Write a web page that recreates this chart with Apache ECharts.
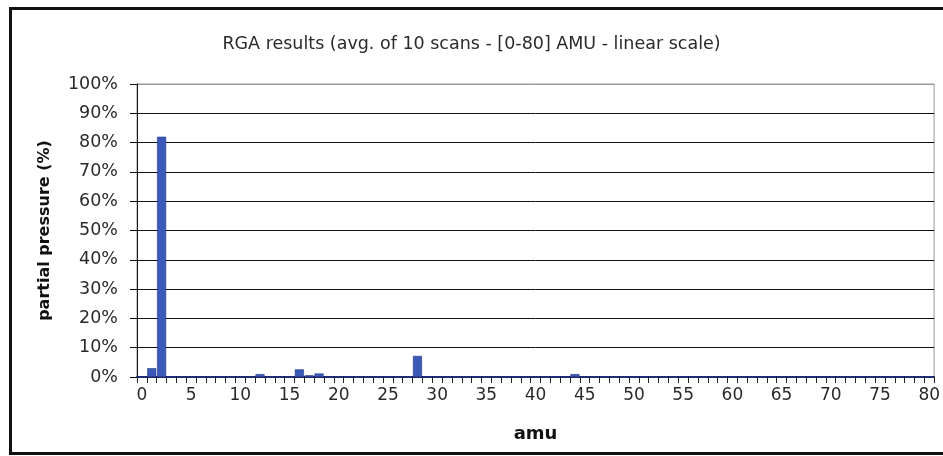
<!DOCTYPE html>
<html>
<head>
<meta charset="utf-8">
<script src="https://cdn.jsdelivr.net/npm/echarts@6/dist/echarts.min.js"></script>
<style>html,body{margin:0;padding:0;background:#fff;}#c{width:943px;height:456px;}</style>
</head>
<body>
<div id="c"></div>
<script>
var titleText = "RGA results (avg. of 10 scans - [0-80] AMU - linear scale)";
var xName = "amu";
var yName = "partial pressure (%)";
var amuCategories = [];
for (var i = 0; i <= 80; i++) amuCategories.push(String(i));
// non-zero peaks (amu -> % partial pressure)
var peakAmu = [1, 2, 12, 16, 17, 18, 28, 44];
var peakValues = [3.0, 82.0, 1.0, 2.6, 0.6, 1.2, 7.2, 1.0];
var yTicks = [0, 10, 20, 30, 40, 50, 60, 70, 80, 90, 100];

var values = amuCategories.map(function (c) {
  var idx = peakAmu.indexOf(Number(c));
  return idx >= 0 ? peakValues[idx] : 0;
});

var font = "DejaVu Sans";
var chart = echarts.init(document.getElementById('c'), null, {renderer: 'canvas'});
chart.setOption({
  animation: false,
  backgroundColor: '#fff',
  title: {
    text: titleText, left: 'center', top: 30,
    textStyle: {fontFamily: font, fontSize: 17.5, fontWeight: 'normal', color: '#2a2a2a'}
  },
  grid: {left: 137, right: 6, top: 84, bottom: 79, show: true, borderColor: '#999', borderWidth: 1},
  xAxis: {
    type: 'category', data: amuCategories,
    name: xName, nameLocation: 'middle', nameGap: 48,
    nameTextStyle: {fontFamily: font, fontSize: 18, fontWeight: 'bold', color: '#111'},
    axisLine: {lineStyle: {color: '#1c2366', width: 2}},
    axisTick: {show: true, interval: 0, length: 6, lineStyle: {color: '#222', width: 1}},
    axisLabel: {interval: 4, fontFamily: font, fontSize: 17, color: '#2a2a2a', margin: 10},
    splitLine: {show: false}
  },
  yAxis: {
    type: 'value', min: 0, max: 100, interval: 10,
    name: yName, nameLocation: 'middle', nameGap: 84,
    nameTextStyle: {fontFamily: font, fontSize: 16, fontWeight: 'bold', color: '#111'},
    axisLine: {show: true, lineStyle: {color: '#111', width: 1}},
    axisTick: {show: true, length: 7, lineStyle: {color: '#111'}},
    axisLabel: {fontFamily: font, fontSize: 17.5, color: '#2a2a2a', margin: 19,
      formatter: function (v) { return v + '%'; }},
    splitLine: {show: true, lineStyle: {color: ['#111','#111','#111','#111','#111','#111','#111','#111','#111','#111','#999'], width: 1}}
  },
  series: [{
    type: 'bar', data: values, barCategoryGap: '8%',
    itemStyle: {color: '#3b59b6', borderColor: '#23398a', borderWidth: 0.6}
  }],
  graphic: [{
    type: 'rect', shape: {x: 10.5, y: 8.5, width: 960, height: 445},
    style: {fill: 'none', stroke: '#111', lineWidth: 3}, z: 100
  }]
});
</script>
</body>
</html>
